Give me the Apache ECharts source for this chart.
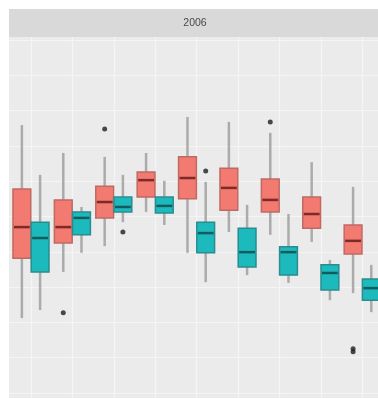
<!DOCTYPE html>
<html>
<head>
<meta charset="utf-8">
<script src="https://cdn.jsdelivr.net/npm/echarts@6/dist/echarts.min.js"></script>
<style>
html,body{margin:0;padding:0;background:#ffffff;}
#chart{width:378px;height:398px;}
</style>
</head>
<body>
<div id="chart"></div>
<script>
// ---- data (arbitrary units, one gridline step = 1) ----
const panelTitle = "2006";
const categories = ["1", "2", "3", "4", "5", "6", "7", "8", "9"];
const groupNames = ["A", "B"];
// [low whisker, Q1, median, Q3, high whisker] per category
const boxesA = [
  [2.12, 3.82, 4.70, 5.78, 7.59],
  [3.43, 4.25, 4.70, 5.47, 6.80],
  [4.16, 4.96, 5.41, 5.86, 6.69],
  [5.13, 5.55, 6.03, 6.26, 6.80],
  [3.97, 5.50, 6.09, 6.69, 7.82],
  [4.56, 5.18, 5.81, 6.37, 7.68],
  [4.48, 5.13, 5.47, 6.06, 7.37],
  [4.28, 4.67, 5.07, 5.55, 6.54],
  [2.83, 3.94, 4.31, 4.76, 5.84]
];
const boxesB = [
  [2.35, 3.43, 4.39, 4.84, 6.18],
  [3.97, 4.48, 4.96, 5.13, 5.27],
  [4.84, 5.13, 5.27, 5.55, 6.18],
  [4.76, 5.10, 5.30, 5.55, 6.01],
  [3.14, 3.97, 4.53, 4.84, 5.98],
  [3.34, 3.57, 3.99, 4.67, 5.33],
  [3.12, 3.34, 3.99, 4.14, 5.07],
  [2.63, 2.92, 3.40, 3.63, 3.77],
  [2.29, 2.63, 2.97, 3.23, 3.63]
];
// outliers: [category index (0-based), value]
const outliersA = [[1, 2.27], [2, 7.48], [6, 7.68], [8, 1.25], [8, 1.17]];
const outliersB = [[2, 4.56], [4, 6.29]];

// ---- styling / layout ----
const DODGE = 0.22, BOXW = 0.43;
const styles = [
  {fill: '#F27A71', border: '#BE6A63', median: '#7E2B27'},
  {fill: '#1CBABD', border: '#2A8C8E', median: '#125C5E'}
];
const WHISKER = '#ABABAB';

function boxData(boxes) {
  return boxes.map((b, i) => [i + 1].concat(b));
}
function outlierData(list, off) {
  return list.map(o => [o[0] + 1 + off, o[1]]);
}
function makeRender(gi) {
  const off = gi === 0 ? -DODGE : DODGE;
  const st = styles[gi];
  return function (params, api) {
    const x = api.value(0) + off;
    const lo = api.coord([x, api.value(1)]);
    const q1 = api.coord([x, api.value(2)]);
    const md = api.coord([x, api.value(3)]);
    const q3 = api.coord([x, api.value(4)]);
    const hi = api.coord([x, api.value(5)]);
    const w = api.size([BOXW, 0])[0];
    return {
      type: 'group',
      children: [
        {type: 'line', shape: {x1: lo[0], y1: lo[1], x2: hi[0], y2: hi[1]},
         style: {stroke: WHISKER, lineWidth: 2.5}},
        {type: 'rect', shape: {x: q3[0] - w / 2, y: q3[1], width: w, height: q1[1] - q3[1]},
         style: {fill: st.fill, stroke: st.border, lineWidth: 1.5}},
        {type: 'line', shape: {x1: md[0] - w / 2 + 1, y1: md[1], x2: md[0] + w / 2 - 1, y2: md[1]},
         style: {stroke: st.median, lineWidth: 2.5}}
      ]
    };
  };
}

const chart = echarts.init(document.getElementById('chart'), null, {renderer: 'canvas'});
chart.setOption({
  animation: false,
  backgroundColor: '#ffffff',
  graphic: [
    {type: 'rect', left: 9, top: 9, shape: {width: 369, height: 28},
     style: {fill: '#D9D9D9'}, silent: true},
    {type: 'text', x: 195, y: 23,
     style: {text: panelTitle, fill: '#4a4a4a', fontSize: 10.5,
             fontFamily: 'Liberation Sans, Arial, sans-serif',
             textAlign: 'center', textVerticalAlign: 'middle'}}
  ],
  grid: {left: 9, right: 0, top: 37, bottom: 0, show: true,
         backgroundColor: '#EBEBEB', borderWidth: 0, containLabel: false},
  xAxis: {
    type: 'value', min: 0.469, max: 9.382, minInterval: 1, maxInterval: 1, splitNumber: 9,
    axisLine: {show: false}, axisTick: {show: false}, axisLabel: {show: false},
    splitLine: {show: true, showMinLine: false, showMaxLine: false,
                lineStyle: {color: '#F5F5F5', width: 1.2}}
  },
  yAxis: {
    type: 'value', min: -0.142, max: 10.085, minInterval: 1, maxInterval: 1, splitNumber: 10,
    axisLine: {show: false}, axisTick: {show: false}, axisLabel: {show: false},
    splitLine: {show: true, showMinLine: false, showMaxLine: false,
                lineStyle: {color: '#F5F5F5', width: 1.2}}
  },
  series: [
    {type: 'custom', name: groupNames[0], renderItem: makeRender(0), data: boxData(boxesA),
     encode: {x: 0, y: [1, 2, 3, 4, 5]}, clip: true},
    {type: 'custom', name: groupNames[1], renderItem: makeRender(1), data: boxData(boxesB),
     encode: {x: 0, y: [1, 2, 3, 4, 5]}, clip: true},
    {type: 'scatter', data: outlierData(outliersA, -DODGE), symbolSize: 5,
     itemStyle: {color: '#1e1e1e'}, silent: true},
    {type: 'scatter', data: outlierData(outliersB, DODGE), symbolSize: 5,
     itemStyle: {color: '#1e1e1e'}, silent: true}
  ]
});
</script>
</body>
</html>
